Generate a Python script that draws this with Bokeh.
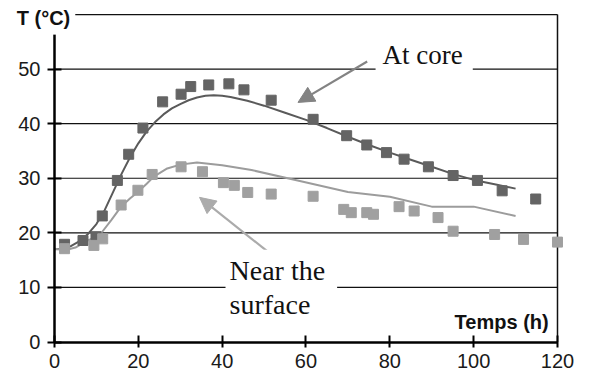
from bokeh.plotting import figure
from bokeh.models import (Range1d, FixedTicker, Label, Arrow, NormalHead)
from bokeh.embed import file_html
from bokeh.resources import INLINE

# Measured data (squares)
core_x = [2.4, 6.8, 9.9, 11.4, 15.0, 17.7, 21.1, 25.8, 30.2, 32.5, 36.8, 41.6, 45.2, 51.7,
          61.7, 69.7, 74.5, 79.2, 83.4, 89.2, 95.1, 100.9, 106.8, 114.8]
core_y = [17.9, 18.6, 19.3, 23.1, 29.6, 34.4, 39.2, 44.0, 45.4, 46.8, 47.1, 47.3, 46.2, 44.3,
          40.8, 37.8, 36.1, 34.7, 33.5, 32.1, 30.5, 29.6, 27.7, 26.2]
surf_x = [2.4, 9.4, 11.5, 15.9, 19.9, 23.3, 30.2, 35.3, 40.3, 42.9, 46.1, 51.7, 61.7, 69.0,
          70.8, 74.5, 76.1, 82.2, 85.8, 91.5, 95.1, 105.0, 111.9, 120.0]
surf_y = [17.1, 17.7, 18.9, 25.1, 27.8, 30.7, 32.1, 31.2, 29.2, 28.7, 27.4, 27.1, 26.7, 24.3,
          23.7, 23.7, 23.4, 24.8, 24.0, 22.8, 20.3, 19.7, 18.8, 18.3]

# Model curves
core_model_x = [0, 2, 4, 6, 8, 10, 12, 14, 16, 18, 20, 22, 24, 26, 28, 30, 32, 34, 36, 38, 40,
                42, 46, 50, 55, 60, 65, 70, 75, 80, 85, 90, 95, 100, 105, 110]
core_model_y = [17.0, 17.1, 17.6, 18.5, 19.8, 21.6, 24.2, 27.5, 30.8, 33.8, 36.4, 38.6, 40.3,
                41.7, 42.8, 43.6, 44.3, 44.8, 45.1, 45.2, 45.1, 44.9, 44.2, 43.3, 42.0, 40.7,
                39.2, 37.6, 36.1, 34.7, 33.4, 32.1, 30.8, 29.7, 28.9, 28.1]
surf_model_x = [0, 2.5, 5, 7, 9, 11.4, 13.5, 15.9, 18, 19.9, 22, 23.7, 26.9, 30, 34, 40, 47,
                58, 70, 80, 90, 100, 110]
surf_model_y = [17.1, 16.8, 17.3, 18.2, 19.0, 20.2, 22.3, 24.8, 26.3, 27.5, 29.0, 30.3, 31.8,
                32.5, 32.9, 32.4, 31.5, 29.6, 27.5, 26.6, 24.8, 24.8, 23.1]

x_ticks = [0, 20, 40, 60, 80, 100, 120]
y_ticks = [0, 10, 20, 30, 40, 50]
grid_ticks = [10, 20, 30, 40, 50, 60]
X_MIN, X_MAX = 0, 120
Y_MIN, Y_MAX = 0, 60

# the frame fills the whole canvas; axes sit at fixed locations inside it
p = figure(width=592, height=379, output_backend="svg", toolbar_location=None,
           x_range=Range1d(-12.88, 128.35), y_range=Range1d(-6.87, 62.57),
           min_border=0, min_border_left=0, min_border_right=0,
           min_border_top=0, min_border_bottom=0)
p.outline_line_color = None
p.background_fill_color = "white"
p.border_fill_color = "white"
p.xgrid.visible = False
p.ygrid.visible = False

for ax in (p.xaxis[0], p.yaxis[0]):
    ax.major_label_text_font = "Liberation Sans"
    ax.major_label_text_font_size = "20px"
    ax.major_label_text_color = "#1a1a1a"
    ax.minor_tick_line_color = None
    ax.major_tick_line_color = "black"
    ax.major_tick_line_width = 2
    ax.major_label_standoff = 7
    ax.axis_line_color = "black"
    ax.axis_line_width = 2.5

p.xaxis.fixed_location = Y_MIN
p.xaxis.bounds = (X_MIN, X_MAX)
p.xaxis.ticker = FixedTicker(ticks=x_ticks)
p.xaxis.major_tick_in = 7
p.xaxis.major_tick_out = 5

p.yaxis.fixed_location = X_MIN
p.yaxis.bounds = (Y_MIN, 56.3)
p.yaxis.ticker = FixedTicker(ticks=y_ticks)
p.yaxis.major_tick_in = 7
p.yaxis.major_tick_out = 7

# horizontal grid lines (incl. top border at 60) and right border
p.segment(x0=[X_MIN] * len(grid_ticks), y0=grid_ticks, x1=[X_MAX] * len(grid_ticks), y1=grid_ticks,
          line_color="#111111", line_width=1.2)
p.segment(x0=[X_MAX], y0=[Y_MIN], x1=[X_MAX], y1=[Y_MAX], line_color="#111111", line_width=1.5)

# model curves
p.line(core_model_x, core_model_y, line_color="#5a5a5a", line_width=2)
p.line(surf_model_x, surf_model_y, line_color="#9c9c9c", line_width=2)

# measured points
p.scatter(core_x, core_y, marker="square", size=10, fill_color="#646464", line_color="#646464")
p.scatter(surf_x, surf_y, marker="square", size=10, fill_color="#a0a0a0", line_color="#a0a0a0")

# arrows
p.add_layout(Arrow(end=NormalHead(size=16, fill_color="#838383", line_color="#838383"),
                   x_start=74.6, y_start=51.4, x_end=58.1, y_end=43.9,
                   line_color="#838383", line_width=2.2))
p.add_layout(Arrow(end=NormalHead(size=16, fill_color="#ababab", line_color="#ababab"),
                   x_start=50.8, y_start=16.6, x_end=34.6, y_end=26.5,
                   line_color="#ababab", line_width=2.2))

# text labels
p.add_layout(Label(x=76.6, y=52.6, text="At core", text_font="Liberation Serif",
                   text_font_size="27px", text_color="#111111", text_baseline="alphabetic",
                   background_fill_color="white",
                   padding=dict(left=7, right=10, top=6, bottom=6)))
p.add_layout(Label(x=40.8, y=16.9, text="Near the\nsurface", text_font="Liberation Serif",
                   text_font_size="28px", text_color="#111111", text_baseline="top",
                   text_line_height=1.1,
                   background_fill_color="white",
                   padding=dict(left=4, right=12, top=5, bottom=5)))
p.add_layout(Label(x=117.9, y=3.6, text="Temps (h)", text_font="Liberation Sans",
                   text_font_size="20px", text_font_style="bold", text_color="#111111",
                   text_align="right", text_baseline="alphabetic"))
p.add_layout(Label(x=-10.2, y=59.3, text="T (°C)", text_font="Liberation Sans",
                   text_font_size="20px", text_font_style="bold", text_color="#111111",
                   text_align="left", text_baseline="alphabetic",
                   background_fill_color="white", padding=5))

open("out.html", "w").write(file_html(p, INLINE))
